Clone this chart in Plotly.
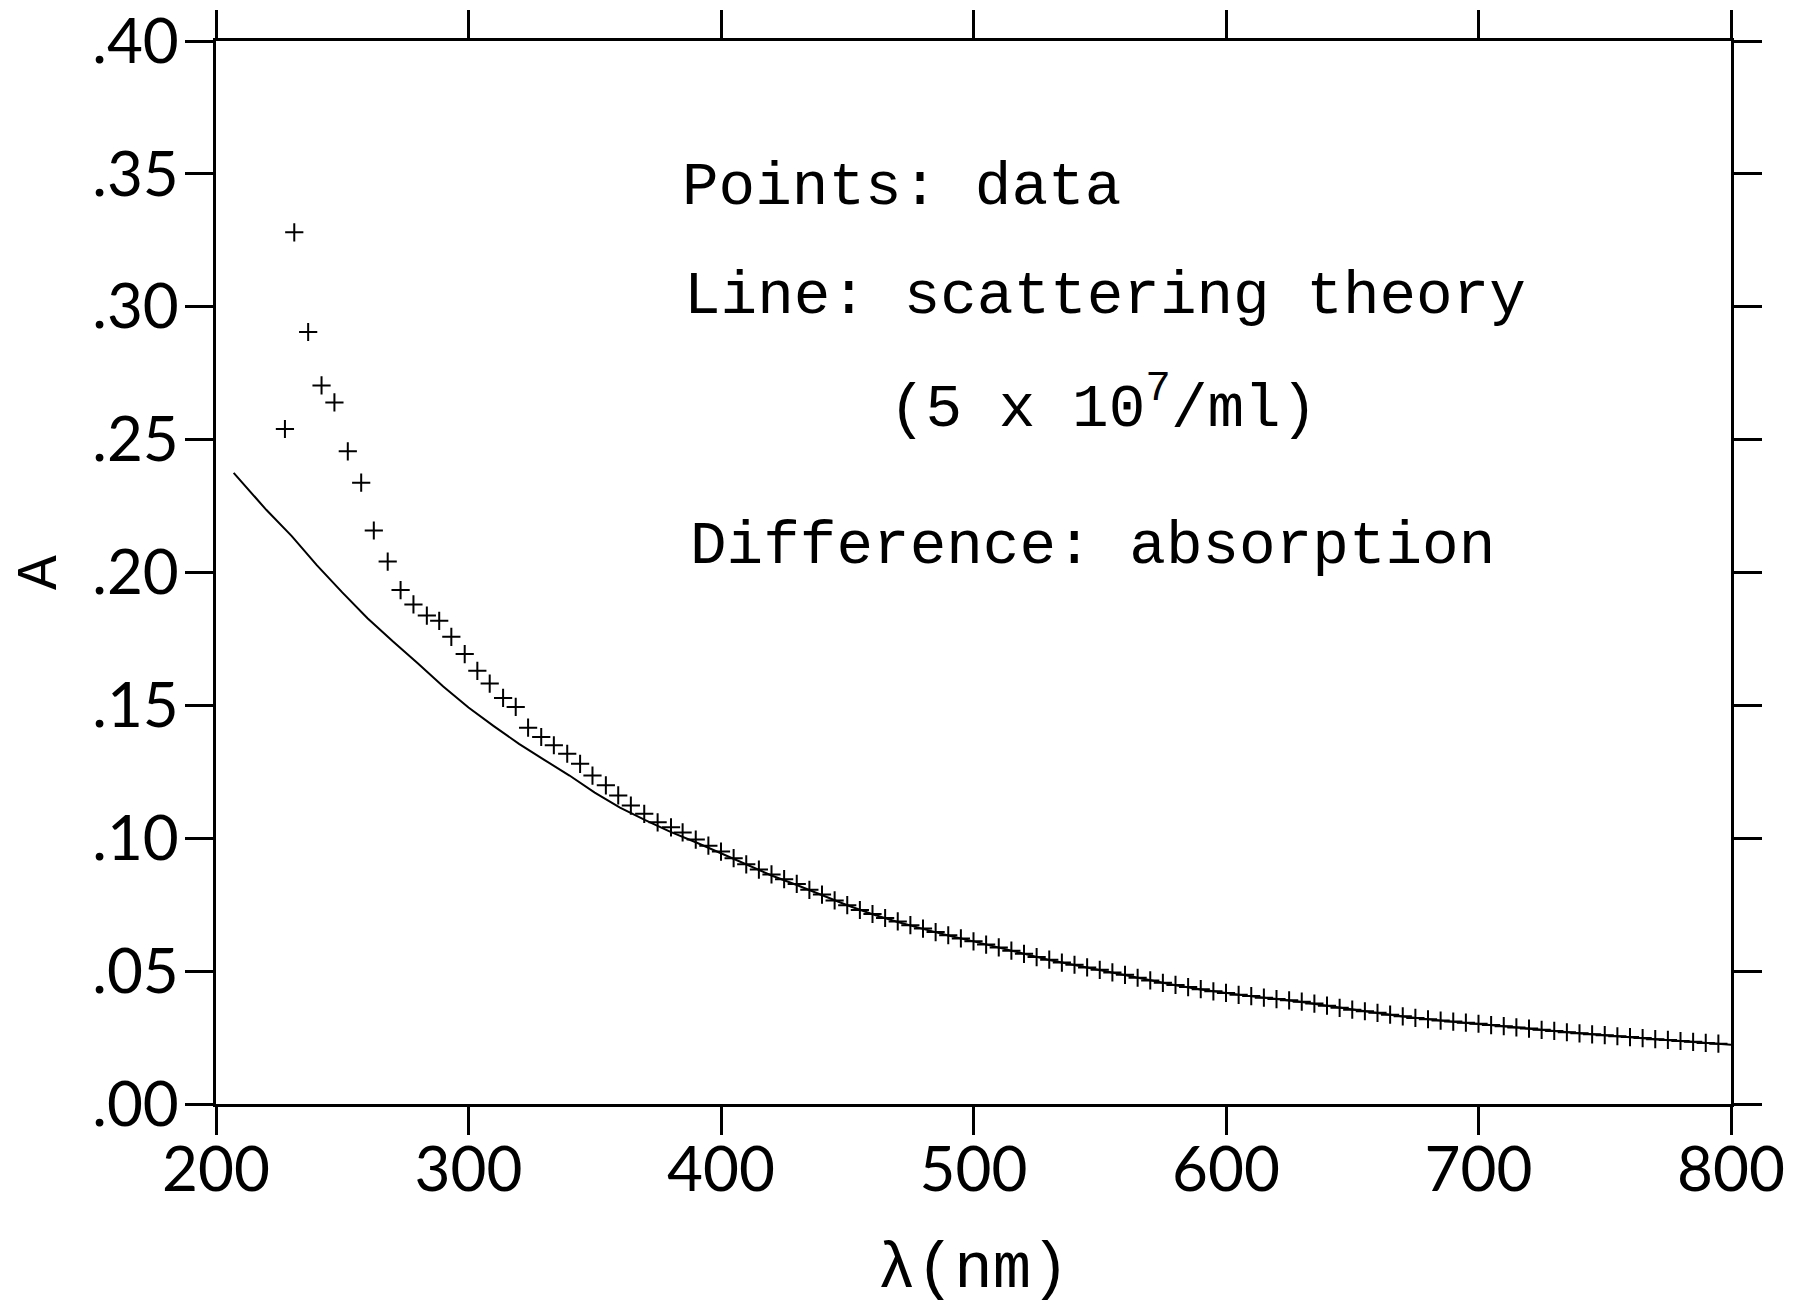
import plotly.graph_objects as go

# ---- data ----
data_nm = [227.3, 231.0, 236.5, 241.8, 246.9, 252.2, 257.5, 262.5, 268.0, 273.1,
           278.2, 283.5, 288.4, 293.2, 298.5, 303.5, 308.4, 313.7, 318.7, 323.6,
           328.8, 333.8, 339.1, 344.2, 349.1, 354.4, 359.3, 364.3, 369.6, 374.9,
           380.2, 384.8, 390, 395, 400, 405, 410, 415, 420, 425,
           430, 435, 440, 445, 450, 455, 460, 465, 470, 475,
           480, 485, 490, 495, 500, 505, 510, 515, 520, 525,
           530, 535, 540, 545, 550, 555, 560, 565, 570, 575,
           580, 585, 590, 595, 600, 605, 610, 615, 620, 625,
           630, 635, 640, 645, 650, 655, 660, 665, 670, 675,
           680, 685, 690, 695, 700, 705, 710, 715, 720, 725,
           730, 735, 740, 745, 750, 755, 760, 765, 770, 775,
           780, 785, 790, 795]
data_A = [0.254, 0.328, 0.2905, 0.2704, 0.264, 0.2456, 0.2338, 0.2158, 0.2041, 0.1934,
          0.1880, 0.1838, 0.1818, 0.1758, 0.1693, 0.1630, 0.1582, 0.1528, 0.1494, 0.1416,
          0.1381, 0.1350, 0.1318, 0.1280, 0.1236, 0.1199, 0.1161, 0.1123, 0.1092, 0.1060,
          0.1041, 0.1022, 0.0995, 0.0972, 0.0950, 0.0925, 0.0902, 0.0882, 0.0864, 0.0846,
          0.0828, 0.0806, 0.0788, 0.0766, 0.0748, 0.0730, 0.0715, 0.0700, 0.0687, 0.0673,
          0.0660, 0.0647, 0.0635, 0.0623, 0.0612, 0.0600, 0.0589, 0.0577, 0.0565, 0.0553,
          0.0543, 0.0532, 0.0524, 0.0514, 0.0505, 0.0495, 0.0486, 0.0475, 0.0465, 0.0456,
          0.0448, 0.0440, 0.0432, 0.0424, 0.0418, 0.0411, 0.0406, 0.0400, 0.0395, 0.0390,
          0.0385, 0.0378, 0.0370, 0.0362, 0.0355, 0.0349, 0.0343, 0.0336, 0.0330, 0.0324,
          0.0319, 0.0314, 0.0310, 0.0306, 0.0302, 0.0297, 0.0293, 0.0288, 0.0284, 0.0279,
          0.0275, 0.0270, 0.0266, 0.0262, 0.0259, 0.0255, 0.0252, 0.0248, 0.0244, 0.0241,
          0.0237, 0.0234, 0.0230, 0.0227]

theory_nm = [207, 215, 220, 230, 240, 250, 260, 270, 280, 290,
             300, 310, 320, 330, 340, 350, 360, 370, 380, 390,
             400, 410, 420, 430, 440, 450, 460, 470, 480, 490,
             500, 510, 520, 530, 540, 550, 560, 570, 580, 590,
             600, 610, 620, 630, 640, 650, 660, 670, 680, 690,
             700, 710, 720, 730, 740, 750, 760, 770, 780, 790, 800]
theory_A = [0.2375, 0.2290, 0.2235, 0.2137, 0.2027, 0.1925, 0.1828, 0.1741, 0.1658, 0.1571,
            0.1492, 0.1422, 0.1355, 0.1295, 0.1236, 0.1172, 0.1115, 0.1068, 0.1024, 0.0985,
            0.0943, 0.0900, 0.0860, 0.0824, 0.0785, 0.0748, 0.0714, 0.0685, 0.0659, 0.0634,
            0.0612, 0.0588, 0.0564, 0.0542, 0.0523, 0.0504, 0.0485, 0.0465, 0.0447, 0.0431,
            0.0417, 0.0405, 0.0395, 0.0384, 0.0370, 0.0355, 0.0342, 0.0329, 0.0318, 0.0309,
            0.0301, 0.0293, 0.0284, 0.0275, 0.0266, 0.0258, 0.0251, 0.0244, 0.0237, 0.0230, 0.0223]

x_tickvals = [200, 300, 400, 500, 600, 700, 800]
x_ticktext = ["200", "300", "400", "500", "600", "700", "800"]
y_tickvals = [0.00, 0.05, 0.10, 0.15, 0.20, 0.25, 0.30, 0.35, 0.40]
y_ticktext = [".00", ".05", ".10", ".15", ".20", ".25", ".30", ".35", ".40"]

notes = ["Points: data", "Line: scattering theory",
         "(5 x 10<sup>7</sup>/ml)", "Difference: absorption"]

MONO = "Liberation Mono"
SANS = "Lato"

fig = go.Figure()
fig.add_trace(go.Scatter(
    x=theory_nm, y=theory_A, mode="lines",
    line=dict(color="black", width=2), showlegend=False))
fig.add_trace(go.Scatter(
    x=data_nm, y=data_A, mode="markers",
    marker=dict(symbol="cross-thin", size=13, color="black",
                line=dict(color="black", width=2)),
    showlegend=False))

axis_common = dict(
    showline=True, linecolor="black", linewidth=2.5, mirror="ticks",
    ticks="outside", ticklen=28, tickwidth=2.5, tickcolor="black",
    showgrid=False, zeroline=False, automargin=False,
    ticklabeloverflow="allow",
    tickfont=dict(family=SANS, size=62, color="black"),
)

fig.update_xaxes(range=[200, 800], tickmode="array", tickvals=x_tickvals,
                 ticktext=x_ticktext, ticklabelstandoff=-18,
                 title=dict(text="λ(nm)", font=dict(family=MONO, size=64, color="black"),
                            standoff=40),
                 **axis_common)
fig.update_yaxes(range=[0, 0.40], tickmode="array", tickvals=y_tickvals,
                 ticktext=y_ticktext, ticklabelstandoff=-6,
                 title=dict(text="A", font=dict(family=MONO, size=58, color="black"),
                            standoff=26),
                 **axis_common)

note_pos = [(383.8, 0.345), (384.6, 0.3037), (465.7, 0.2635), (386.9, 0.2096)]
for txt, (nx, ny) in zip(notes, note_pos):
    fig.add_annotation(x=nx, y=ny, xref="x", yref="y", text=txt, showarrow=False,
                       xanchor="left", yanchor="middle",
                       font=dict(family=MONO, size=61, color="black"))

fig.update_layout(
    width=1806, height=1309, autosize=False,
    margin=dict(l=208, r=83, t=33, b=213),
    paper_bgcolor="white", plot_bgcolor="white",
)

fig.write_html("out.html")
